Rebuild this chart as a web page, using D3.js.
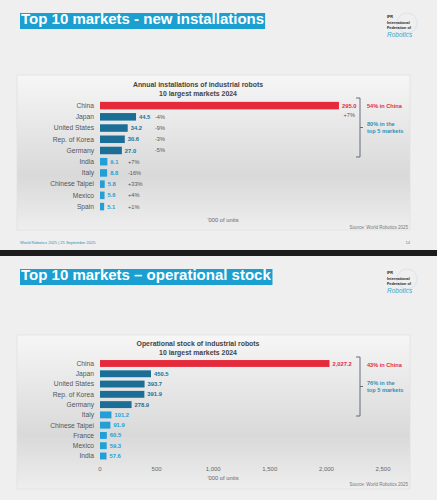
<!DOCTYPE html>
<html>
<head>
<meta charset="utf-8">
<script src="https://cdn.jsdelivr.net/npm/d3@7"></script>
<style>
  body { margin: 0; background: #efefef; }
  svg { display: block; font-family: "Liberation Sans", Arial, sans-serif; }
</style>
</head>
<body>
<svg id="chart"></svg>
<script>
// ---- data ----
var installCountries = ["China", "Japan", "United States", "Rep. of Korea", "Germany", "India", "Italy", "Chinese Taipei", "Mexico", "Spain"];
var installValues = [295.0, 44.5, 34.2, 30.6, 27.0, 9.1, 8.8, 5.8, 5.6, 5.1];
var installGrowth = ["+7%", "-4%", "-9%", "-3%", "-5%", "+7%", "-16%", "+33%", "+4%", "+1%"];

var stockCountries = ["China", "Japan", "United States", "Rep. of Korea", "Germany", "Italy", "Chinese Taipei", "France", "Mexico", "India"];
var stockValues = [2027.2, 450.5, 393.7, 391.9, 278.9, 101.2, 91.9, 60.5, 59.3, 57.6];
var stockTicks = [0, 500, 1000, 1500, 2000, 2500];

var red = "#e42a3b", dark = "#1b6e96", light = "#229fd6", teal = "#2a93b8";

var W = 437, H = 500;
var svg = d3.select("#chart").attr("width", W).attr("height", H);

var defs = svg.append("defs");
var grad = defs.append("linearGradient").attr("id", "boxGrad")
  .attr("x1", 0).attr("y1", 0).attr("x2", 0).attr("y2", 1);
grad.append("stop").attr("offset", "0%").attr("stop-color", "#f6f6f6");
grad.append("stop").attr("offset", "65%").attr("stop-color", "#d9d9d9");
grad.append("stop").attr("offset", "100%").attr("stop-color", "#eeeeee");

// slide background + separator
svg.append("rect").attr("width", W).attr("height", H).attr("fill", "#efefef");
svg.append("rect").attr("x", 0).attr("y", 250).attr("width", W).attr("height", 6).attr("fill", "#1c1c1c");

function fmt(v) { return d3.format(",.1f")(v); }

function slide(opt) {
  var g = svg.append("g").attr("transform", "translate(0," + opt.top + ")");

  // title with highlight
  var t = g.append("text").attr("x", 21).attr("y", 24)
    .attr("fill", "#fff").attr("font-weight", "bold").attr("font-size", 15)
    .text(opt.title);
  var bb = t.node().getBBox();
  g.insert("rect", "text").attr("x", 20).attr("y", 13)
    .attr("width", bb.width + 2).attr("height", 16).attr("fill", "#1b9fd0");

  // IFR logo
  var logo = g.append("g").attr("transform", "translate(387,14)");
  logo.append("circle").attr("cx", 20).attr("cy", 9).attr("r", 10)
    .attr("fill", "none").attr("stroke", "#dde6ec").attr("stroke-width", 1.2);
  ["IFR", "International", "Federation of"].forEach(function (s, i) {
    logo.append("text").attr("x", 0).attr("y", 4 + i * 5.5)
      .attr("font-size", 3.8).attr("font-weight", "bold").attr("fill", "#222").text(s);
  });
  logo.append("text").attr("x", 0).attr("y", 23).attr("font-size", 6.5)
    .attr("font-style", "italic").attr("fill", "#3aa7c8").text("Robotics");

  // chart box
  g.append("rect").attr("x", 17).attr("y", opt.boxTop).attr("width", 393).attr("height", opt.boxH)
    .attr("fill", "url(#boxGrad)").attr("stroke", "#e2e2e2").attr("stroke-width", 0.8);

  opt.chartTitle.forEach(function (s, i) {
    g.append("text").attr("x", 198).attr("y", opt.titleY + i * 9)
      .attr("text-anchor", "middle").attr("font-size", 6.9).attr("font-weight", "bold")
      .attr("fill", "#444").text(s);
  });

  var x = d3.scaleLinear().domain(opt.xDomain).range([100, opt.xRight]);
  var y = d3.scaleBand().domain(opt.countries).range(opt.yRange)
    .paddingInner(0.33).paddingOuter(0.165);

  function col(i) { return i === 0 ? red : (i < 5 ? dark : light); }

  var rows = g.selectAll(".row").data(opt.countries).enter().append("g").attr("class", "row");

  rows.append("text").attr("x", 94).attr("y", function (d) { return y(d) + y.bandwidth() / 2; })
    .attr("dy", "0.35em").attr("text-anchor", "end").attr("font-size", 6.7).attr("fill", "#555")
    .text(function (d) { return d; });

  rows.append("rect").attr("x", x(0)).attr("y", function (d) { return y(d); })
    .attr("height", y.bandwidth())
    .attr("width", function (d, i) { return x(opt.values[i]) - x(0); })
    .attr("fill", function (d, i) { return col(i); });

  rows.append("text")
    .attr("x", function (d, i) { return x(opt.values[i]) + 3; })
    .attr("y", function (d) { return y(d) + y.bandwidth() / 2; })
    .attr("dy", "0.35em").attr("font-size", 5.8).attr("font-weight", "bold")
    .attr("fill", function (d, i) { return col(i); })
    .text(function (d, i) { return fmt(opt.values[i]); });

  if (opt.growth) {
    rows.append("text")
      .attr("x", function (d, i) { return i === 0 ? x(opt.values[0]) + 16 : (i < 5 ? 155 : 128); })
      .attr("y", function (d, i) { return i === 0 ? y(d) + y.bandwidth() + 6 : y(d) + y.bandwidth() / 2; })
      .attr("dy", "0.35em").attr("text-anchor", function (d, i) { return i === 0 ? "end" : "start"; })
      .attr("font-size", 5.6).attr("fill", "#555")
      .text(function (d, i) { return opt.growth[i]; });
  }

  if (opt.ticks) {
    g.append("g").selectAll("text").data(opt.ticks).enter().append("text")
      .attr("x", function (d) { return x(d); }).attr("y", opt.tickY)
      .attr("text-anchor", "middle").attr("font-size", 6).attr("fill", "#666")
      .text(function (d) { return d3.format(",")(d); });
  }

  g.append("text").attr("x", 223).attr("y", opt.unitY).attr("text-anchor", "middle")
    .attr("font-size", 5.8).attr("fill", "#666").text("'000 of units");
  g.append("text").attr("x", 408).attr("y", opt.sourceY).attr("text-anchor", "end")
    .attr("font-size", 4.5).attr("fill", "#777").text("Source: World Robotics 2025");

  // bracket
  var b0 = opt.bracket[0], b1 = opt.bracket[1], bm = (b0 + b1) / 2;
  g.append("path")
    .attr("d", "M356," + b0 + " H360 V" + b1 + " H356 M360," + bm + " H363")
    .attr("fill", "none").attr("stroke", "#556070").attr("stroke-width", 0.9);
  g.append("text").attr("x", 367).attr("y", opt.noteY[0]).attr("font-size", 5.6)
    .attr("font-weight", "bold").attr("fill", red).text(opt.note1);
  opt.note2.forEach(function (s, i) {
    g.append("text").attr("x", 367).attr("y", opt.noteY[1] + i * 7).attr("font-size", 5.6)
      .attr("font-weight", "bold").attr("fill", teal).text(s);
  });

  if (opt.footer) {
    g.append("text").attr("x", 20).attr("y", 244).attr("font-size", 4).attr("fill", teal)
      .text("World Robotics 2025  |  25 September 2025");
    g.append("text").attr("x", 410).attr("y", 244).attr("text-anchor", "end")
      .attr("font-size", 4).attr("fill", teal).text("14");
  }
}

slide({
  top: 0,
  title: "Top 10 markets - new installations",
  chartTitle: ["Annual installations of industrial robots", "10 largest markets 2024"],
  titleY: 87, boxTop: 75, boxH: 155,
  countries: installCountries, values: installValues, growth: installGrowth,
  xDomain: [0, 300], xRight: 343,
  yRange: [100, 212.2],
  unitY: 222, sourceY: 229,
  bracket: [98, 157], noteY: [108, 126],
  note1: "54% in China", note2: ["80% in the", "top 5 markets"],
  footer: true
});

slide({
  top: 256,
  title: "Top 10 markets \u2013 operational stock",
  chartTitle: ["Operational stock of industrial robots", "10 largest markets 2024"],
  titleY: 90, boxTop: 79, boxH: 154,
  countries: stockCountries, values: stockValues,
  xDomain: [0, 2500], xRight: 383,
  yRange: [102.35, 205.15],
  ticks: stockTicks, tickY: 215,
  unitY: 224, sourceY: 230,
  bracket: [101, 160], noteY: [111, 129],
  note1: "43% in China", note2: ["76% in the", "top 5 markets"]
});
</script>
</body>
</html>
